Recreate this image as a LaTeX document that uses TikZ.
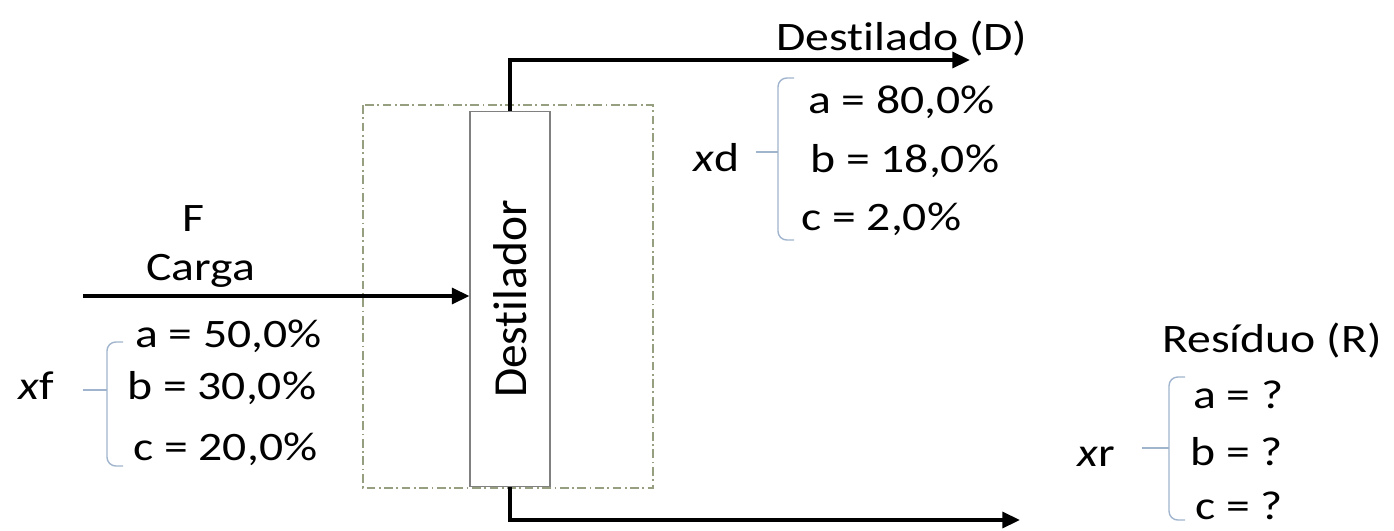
\documentclass[tikz,border=0pt]{standalone}
\usepackage{fontspec}
\setmainfont[Ligatures=NoCommon]{Carlito}
\newfontfamily\widefont[Ligatures=NoCommon, FakeStretch=1.18]{Carlito}
\usetikzlibrary{arrows.meta}

\definecolor{framegreen}{RGB}{150,160,128}
\definecolor{bracegray}{RGB}{160,180,205}

\tikzset{
  lbl/.style={inner sep=0pt, anchor=base west, font=\widefont\fontsize{23}{27}\selectfont},
  flow/.style={line width=2pt, -{Triangle[length=10pt,width=9pt]}},
  bkt/.style={draw=bracegray, line width=0.8pt, rounded corners=5pt},
  frame/.style={draw=framegreen, line width=0.8pt, dash pattern=on 5pt off 2pt on 1pt off 2pt},
}

% chave da composicao: x da haste, topo, base, x do traco, y do traco
\newcommand{\compbrace}[5]{%
  \draw[bkt] (#1+16,#2) -- (#1,#2) -- (#1,#3) -- (#1+16,#3);
  \draw[bkt] (#4,#5) -- (#1,#5);
}

\begin{document}
\begin{tikzpicture}[x=0.02cm, y=-0.02cm]
\useasboundingbox (0,0) rectangle (1394,531);

% fronteira e destilador
\draw[frame] (363,105) rectangle (653,488);
\node[draw=gray, line width=0.6pt, minimum width=1.6cm, minimum height=7.52cm, inner sep=0pt] (dest) at (510,299) {};
\node[rotate=90, font=\fontsize{27}{32}\selectfont] (destlbl) at (dest.center) {Destilador};

% carga
\node[lbl] (nF) at (182,231) {F};
\node[lbl] (carga) at (146,280) {Carga};
\coordinate (feedin) at (83,296);
\draw[flow] (feedin) -- (feedin -| dest.west);
\node[lbl] (xf) at (18,399) {\textit{x}f};
\compbrace{107}{342}{466}{83}{390}
\node[lbl] (xfa) at (135,347) {a = 50,0\%};
\node[lbl] (xfb) at (127,399) {b = 30,0\%};
\node[lbl] (xfc) at (133,460) {c = 20,0\%};

% destilado
\coordinate (dout) at (970,60);
\draw[flow] (dest.north) |- (dout);
\node[lbl] (nD) at (776,50) {Destilado (D)};
\node[lbl] (xd) at (693,171) {\textit{x}d};
\compbrace{778}{78}{240}{756}{152}
\node[lbl] (xda) at (808,113) {a = 80,0\%};
\node[lbl] (xdb) at (810,172) {b = 18,0\%};
\node[lbl] (xdc) at (801,230) {c = 2,0\%};

% residuo
\coordinate (rout) at (1020,520);
\draw[flow] (dest.south) |- (rout);
\node[lbl] (nR) at (1162,352) {Resíduo (R)};
\node[lbl] (xr) at (1077,466) {\textit{x}r};
\compbrace{1169}{377}{520}{1142}{448}
\node[lbl] (xra) at (1193,408) {a = ?};
\node[lbl] (xrb) at (1190,465) {b = ?};
\node[lbl] (xrc) at (1195,519) {c = ?};
\end{tikzpicture}
\end{document}
